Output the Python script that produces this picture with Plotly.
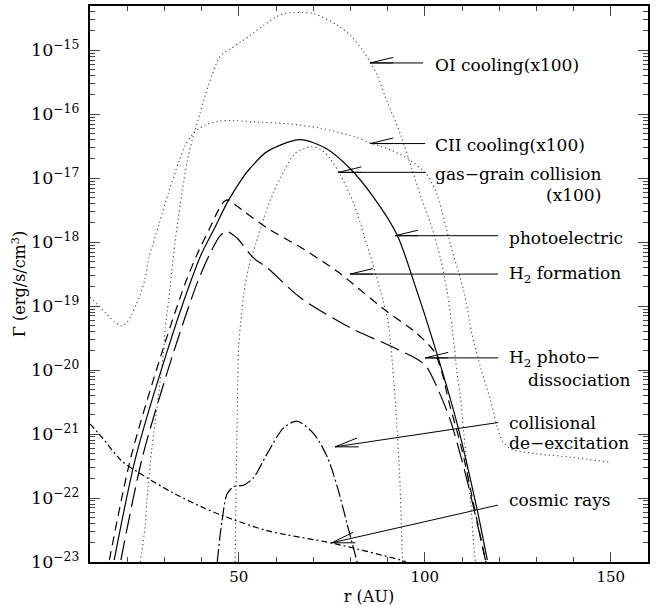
import math
import plotly.graph_objects as go

# ---------------- data (r in AU, log10 of Gamma in erg/s/cm^3) ----------------
oi_r = [23.5, 24.8, 25.3, 26.6, 27.5, 29.8, 30.2, 31.1, 31.6, 33.0, 34.8, 36.1, 37.5, 39.5, 41.0,
        42.8, 44.6, 46.0, 47.8, 50.5, 53.1, 56.7, 60.3, 62.1, 66.0, 70.2, 76.5, 80.0, 83.6, 87.2,
        89.9, 93.5, 96.5, 99.0, 101.5, 104.2, 106.0, 107.4, 108.7, 109.6, 110.5, 112.3, 113.2, 113.6]
oi_logy = [-23.0, -22.45, -22.04, -21.23, -20.82, -19.68, -19.35, -18.92, -18.65, -17.94, -17.2,
           -16.75, -16.4, -16.0, -15.70, -15.39, -15.13, -15.04, -14.98, -14.87, -14.77, -14.61,
           -14.47, -14.43, -14.41, -14.43, -14.61, -14.77, -15.03, -15.39, -15.81, -16.32, -16.85,
           -17.3, -17.7, -18.25, -18.77, -19.36, -20.06, -20.43, -21.0, -22.04, -22.77, -23.0]

cii_r = [10.0, 12.0, 14.1, 16.5, 18.5, 20.0, 21.2, 22.5, 23.5, 24.8, 25.8, 28.5, 31.2, 33.9, 35.5,
         37.0, 38.5, 41.0, 44.6, 48.2, 54.0, 63.0, 72.0, 80.9, 85.4, 89.9, 95.3, 100.6, 103.3,
         106.9, 110.5, 112.7, 115.0, 117.7, 119.5, 120.8, 123.0, 130.2, 139.2, 149.5]
cii_logy = [-18.86, -18.98, -19.1, -19.24, -19.31, -19.25, -19.13, -18.97, -18.82, -18.58, -18.25,
            -17.73, -17.21, -16.74, -16.5, -16.36, -16.26, -16.17, -16.11, -16.10, -16.12, -16.15,
            -16.22, -16.35, -16.45, -16.54, -16.69, -16.95, -17.26, -18.04, -18.77, -19.44, -19.96,
            -20.48, -20.90, -21.10, -21.23, -21.31, -21.36, -21.44]

gg_r = [49.0, 49.5, 50.0, 50.8, 51.3, 52.7, 54.5, 56.7, 59.4, 62.1, 65.0, 69.3, 72.0, 74.6, 77.3,
        80.9, 83.6, 86.3, 88.1, 90.0, 91.3, 92.2, 93.2, 94.0]
gg_logy = [-23.0, -21.0, -19.6, -19.1, -18.82, -18.38, -18.04, -17.63, -17.21, -16.90, -16.62,
           -16.51, -16.55, -16.70, -16.95, -17.40, -17.88, -18.40, -18.77, -19.2, -19.9, -20.6,
           -21.6, -23.0]

pe_r = [16.5, 22.3, 30.5, 36.8, 39.9, 43.5, 47.1, 51.6, 53.0, 57.5, 66.4, 73.6, 79.9, 86.0, 92.5,
        97.0, 103.3, 108.7, 114.1, 116.8]
pe_logy = [-22.97, -21.36, -19.75, -18.66, -18.19, -17.78, -17.36, -16.95, -16.85, -16.59, -16.40,
           -16.54, -16.85, -17.28, -17.88, -18.61, -19.75, -20.84, -22.19, -22.97]

h2f_r = [15.2, 21.0, 29.2, 35.5, 38.8, 42.2, 44.5, 46.0, 46.9, 48.2, 49.6, 57.6, 66.6, 76.5, 80.0,
         89.9, 97.1, 102.4, 104.7, 106.5, 110.0, 113.5, 116.4]
h2f_logy = [-22.97, -21.36, -19.75, -18.66, -18.19, -17.78, -17.5, -17.37, -17.34, -17.38, -17.44,
            -17.78, -18.08, -18.46, -18.62, -19.09, -19.39, -19.70, -20.06, -20.5, -21.25, -22.2,
            -23.0]

h2d_r = [18.3, 24.1, 32.3, 39.0, 42.5, 45.0, 46.7, 48.3, 49.6, 54.0, 57.6, 66.6, 80.0, 89.9, 93.5,
         98.0, 100.6, 103.3, 106.9, 111.4, 116.3]
h2d_logy = [-22.97, -21.36, -19.75, -18.61, -18.15, -17.9, -17.83, -17.88, -17.94, -18.25, -18.40,
            -18.87, -19.34, -19.60, -19.70, -19.83, -19.96, -20.27, -20.79, -21.73, -22.97]

cd_r = [44.2, 45.5, 46.9, 48.7, 51.3, 54.0, 57.6, 62.1, 65.7, 70.2, 73.8, 76.5, 79.1, 81.8]
cd_logy = [-23.0, -22.35, -21.93, -21.82, -21.80, -21.68, -21.31, -20.90, -20.80, -21.0, -21.36,
           -21.83, -22.40, -23.0]

cr_r = [10.0, 13.2, 18.5, 23.0, 32.0, 39.7, 45.4, 57.6, 75.5, 93.5, 95.0]
cr_logy = [-20.84, -21.05, -21.42, -21.60, -21.91, -22.13, -22.27, -22.51, -22.71, -22.97, -23.0]

x_tickvals = [50, 100, 150]

# ---------------- figure ----------------
FONT = "DejaVu Serif"
fig = go.Figure()

DOT = dict(color="#444444", width=1.1, dash="1.2px,3px")
series = [
    (oi_r, oi_logy, DOT),
    (cii_r, cii_logy, DOT),
    (gg_r, gg_logy, DOT),
    (pe_r, pe_logy, dict(color="black", width=1.2, dash="solid")),
    (h2f_r, h2f_logy, dict(color="black", width=1.2, dash="9px,6px")),
    (h2d_r, h2d_logy, dict(color="black", width=1.2, dash="20px,7px")),
    (cd_r, cd_logy, dict(color="black", width=1.2, dash="13px,3px,2px,3px")),
    (cr_r, cr_logy, dict(color="black", width=1.2, dash="6px,3px,2px,3px")),
]
for xs, ly, style in series:
    fig.add_trace(go.Scatter(
        x=xs, y=[10 ** v for v in ly], mode="lines",
        line=dict(shape="spline", smoothing=0.8, **style),
        showlegend=False, hoverinfo="skip"))

# ---------------- labels & arrows ----------------
# arrow: tip (r, log10 Gamma), tail offset in pixels (dx right, dy up)
arrows = [
    (85.3, -15.20, 53, 0),
    (85.3, -16.46, 55, 0),
    (76.8, -16.91, 87, 0),
    (92.0, -17.90, 103, 0),
    (79.9, -18.50, 148, 0),
    (100.1, -19.81, 73, 0),
    (75.9, -21.20, 163, 24.3),
    (75.0, -22.70, 166, 37.7),
]
for r0, ly0, dx, dy in arrows:
    n = math.hypot(dx, dy)
    ux, uy = dx / n, dy / n
    nx, ny = -uy, ux
    L, W = 23, 5.5
    segs = [(dx, dy), (L * ux + W * nx, L * uy + W * ny), (L * ux - W * nx, L * uy - W * ny)]
    for x1, y1 in segs:
        fig.add_shape(type="line", xref="x", yref="y", xsizemode="pixel", ysizemode="pixel",
                      xanchor=r0, yanchor=10 ** ly0, x0=0, y0=0, x1=x1, y1=y1,
                      line=dict(color="black", width=1))

# text labels: (text, left/right pixel x, pixel y centre, anchor) in figure pixel space
L0, T0, PW, PH = 90, 4, 558, 558
labels = [
    ("OI cooling(x100)", 433, 63, "left"),
    ("CII cooling(x100)", 433, 144, "left"),
    ("gas\u2212grain collision", 433, 173, "left"),
    ("(x100)", 603, 194, "right"),
    ("photoelectric", 507, 237, "left"),
    ("H<sub>2</sub> formation", 507, 273, "left"),
    ("H<sub>2</sub> photo\u2212", 507, 358, "left"),
    ("dissociation", 526, 379, "left"),
    ("collisional", 507, 422, "left"),
    ("de\u2212excitation", 507, 443, "left"),
    ("cosmic rays", 507, 500, "left"),
]
for txt, px, py, anc in labels:
    fig.add_annotation(text=txt, xref="paper", yref="paper",
                       x=(px - L0) / PW, y=1 - (py - T0) / PH,
                       xanchor=anc, yanchor="middle", showarrow=False,
                       font=dict(family=FONT, size=17, color="black"))

fig.update_layout(
    width=668, height=614,
    margin=dict(l=90, r=20, t=4, b=52),
    paper_bgcolor="white", plot_bgcolor="white",
    font=dict(family=FONT, size=15, color="black"),
    showlegend=False,
)
fig.update_xaxes(
    range=[10, 160], tickvals=x_tickvals, ticks="inside", ticklen=10, tickwidth=1,
    minor=dict(ticks="inside", ticklen=5, dtick=10, tick0=0, showgrid=False),
    showline=True, linewidth=2, linecolor="black", mirror="allticks",
    showgrid=False, zeroline=False, tickfont=dict(family=FONT, size=15),
    title=dict(text="r (AU)", font=dict(family=FONT, size=16), standoff=6),
)
fig.update_yaxes(
    type="log", range=[-23, -14.31], dtick=1, exponentformat="power", showexponent="all",
    ticks="inside", ticklen=10, tickwidth=1, ticklabelstandoff=6,
    minor=dict(ticks="inside", ticklen=5, showgrid=False),
    showline=True, linewidth=2, linecolor="black", mirror="allticks",
    showgrid=False, zeroline=False, tickfont=dict(family=FONT, size=14),
    title=dict(text="\u0393 (erg/s/cm<sup>3</sup>)", font=dict(family=FONT, size=16), standoff=1),
)

fig.write_html("out.html", config={"displayModeBar": False},
               post_script="document.body.style.margin='0px';")
